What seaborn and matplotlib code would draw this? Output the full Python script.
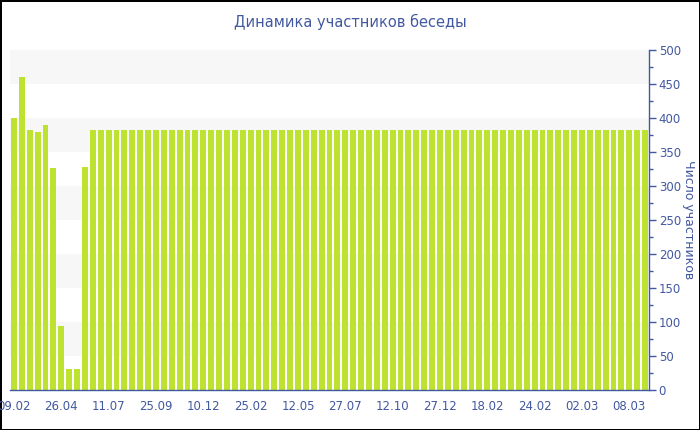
import matplotlib
matplotlib.use('Agg')
import matplotlib.pyplot as plt
import seaborn as sns
import numpy as np
import pandas as pd
from matplotlib.ticker import MultipleLocator

# Данные
valores_inicio = [400, 460, 383, 380, 390, 326, 94, 31, 31, 328]
valores_resto = [382] * 71
participantes = valores_inicio + valores_resto
rotulos = ['09.02', '26.04', '11.07', '25.09', '10.12', '25.02', '12.05',
           '27.07', '12.10', '27.12', '18.02', '24.02', '02.03', '08.03']
passo_rotulo = 6

titulo = 'Динамика участников беседы'
rotulo_y = 'Число участников'

cor_barra = '#bde22f'
cor_texto = '#4258a0'
cor_faixa = '#f7f7f7'

df = pd.DataFrame({'pos': np.arange(len(participantes)), 'valor': participantes})

sns.set_style('white')
plt.rcParams['font.family'] = ['DejaVu Sans']

fig = plt.figure(figsize=(7, 4.3), dpi=100)
fig.patch.set_edgecolor('black')
fig.patch.set_linewidth(2)
ax = fig.add_axes([10 / 700, 1 - 390 / 430, 639 / 700, 340 / 430])

# Faixas alternadas no fundo
for base in range(50, 500, 100):
    ax.axhspan(base, base + 50, color=cor_faixa, zorder=0, lw=0)

sns.barplot(data=df, x='pos', y='valor', color=cor_barra, saturation=1,
            width=0.76, linewidth=0, ax=ax, zorder=2)

ax.set_ylim(0, 500)
ax.set_xlim(-0.5, len(participantes) - 0.5)

ax.yaxis.tick_right()
ax.yaxis.set_label_position('right')
ax.yaxis.set_major_locator(MultipleLocator(50))
ax.yaxis.set_minor_locator(MultipleLocator(25))

pos_rotulos = list(range(0, passo_rotulo * len(rotulos), passo_rotulo))
ax.set_xticks(pos_rotulos)
ax.set_xticklabels(rotulos)

ax.tick_params(axis='both', which='both', colors=cor_texto, labelsize=8.5,
               direction='out')
ax.tick_params(axis='y', which='major', length=5, width=1, pad=2)
ax.tick_params(axis='y', which='minor', length=3, width=1)
ax.tick_params(axis='x', which='major', length=4, width=1, pad=3)

for lado in ['top', 'left']:
    ax.spines[lado].set_visible(False)
for lado in ['bottom', 'right']:
    ax.spines[lado].set_color(cor_texto)
    ax.spines[lado].set_linewidth(1)

ax.set_xlabel('')
ax.set_ylabel(rotulo_y, color=cor_texto, fontsize=9, rotation=270, labelpad=10)

fig.text(0.5, 1 - 22 / 430, titulo, ha='center', va='center',
         color=cor_texto, fontsize=10.5)

plt.savefig('out.png', dpi=100, edgecolor='black')
